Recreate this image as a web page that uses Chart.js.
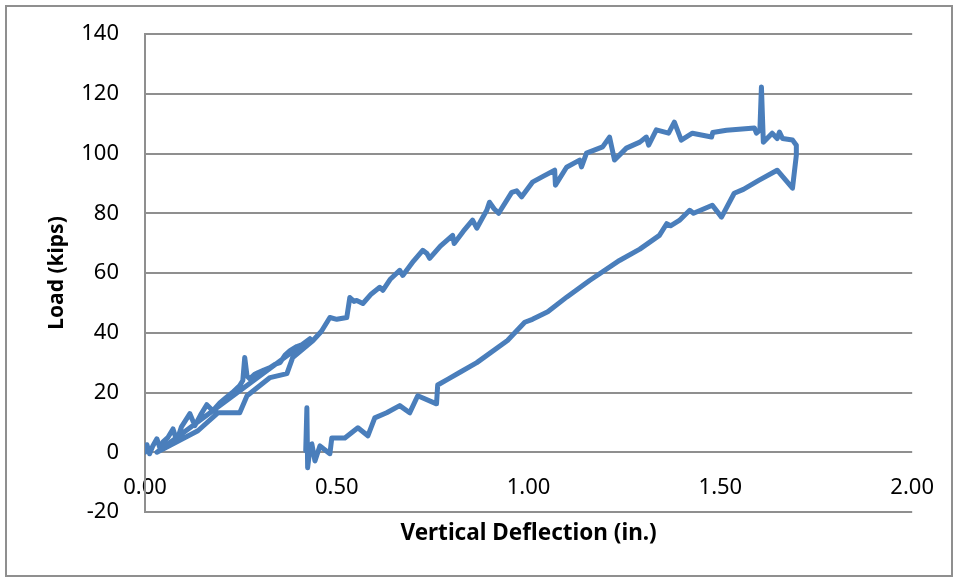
<!DOCTYPE html>
<html lang="en">

<head>
  <meta charset="UTF-8">
  <title>Load vs Vertical Deflection</title>
  <style>
    body {
      margin: 0;
      background-color: #ffffff;
    }

    .frame {
      position: absolute;
      left: 5px;
      top: 5px;
      width: 944px;
      height: 568px;
      border: 2px solid #8f8f8f;
      pointer-events: none;
    }

    #loadChart {
      position: absolute;
      left: 0;
      top: 0;
    }
  </style>
  <script src="https://cdn.jsdelivr.net/npm/chart.js"></script>
</head>

<body>
  <canvas id="loadChart" width="956" height="578"></canvas>
  <div class="frame"></div>

  <script>
    // first loading run, jagged (in., kips)
    const firstLoadDefl = [0.000, 0.005, 0.012, 0.020, 0.031, 0.040, 0.047, 0.060, 0.073, 0.083, 0.095, 0.105, 0.117, 0.130, 0.145, 0.161, 0.177, 0.195, 0.208, 0.228, 0.247, 0.255, 0.260, 0.266, 0.273, 0.285, 0.294, 0.310, 0.326, 0.340, 0.352, 0.365, 0.378, 0.396, 0.417, 0.430];
    const firstLoadKips = [0.0, 2.5, -0.5, 2.0, 4.5, 1.0, 3.5, 5.0, 7.8, 3.8, 8.5, 10.5, 12.9, 8.9, 12.5, 15.9, 13.9, 16.5, 17.9, 20.0, 22.3, 24.0, 31.7, 25.5, 24.6, 26.0, 26.6, 27.5, 28.3, 29.5, 30.0, 32.5, 34.0, 35.4, 36.4, 38.0];

    // early unload and reload
    const reloadDefl = [0.031, 0.138, 0.190, 0.247, 0.266, 0.326, 0.370, 0.385, 0.438];
    const reloadKips = [0.0, 7.2, 13.2, 13.2, 18.9, 25.0, 26.3, 31.7, 37.4];

    // main loading up to peak
    const mainLoadDefl = [0.460, 0.482, 0.500, 0.526, 0.534, 0.545, 0.552, 0.568, 0.590, 0.612, 0.620, 0.640, 0.664, 0.672, 0.700, 0.724, 0.735, 0.742, 0.770, 0.802, 0.806, 0.830, 0.854, 0.865, 0.880, 0.891, 0.898, 0.910, 0.922, 0.956, 0.969, 0.982, 1.010, 1.040, 1.068, 1.070, 1.099, 1.133, 1.138, 1.151, 1.193, 1.211, 1.224, 1.255, 1.290, 1.307, 1.313, 1.333, 1.365, 1.380, 1.398, 1.427, 1.477, 1.480, 1.516, 1.589, 1.594, 1.603, 1.607, 1.612, 1.635, 1.648, 1.654, 1.662, 1.688, 1.698, 1.698, 1.688];
    const mainLoadKips = [40.5, 45.1, 44.5, 45.1, 51.8, 50.5, 50.8, 49.8, 53.0, 55.2, 54.2, 58.0, 60.9, 59.2, 64.0, 67.6, 66.5, 64.9, 69.0, 72.6, 69.9, 74.0, 77.7, 75.0, 78.5, 81.0, 83.7, 81.5, 80.0, 87.0, 87.5, 85.5, 90.4, 92.5, 94.4, 89.4, 95.4, 97.8, 95.5, 100.1, 102.2, 105.5, 97.8, 101.8, 103.8, 105.5, 102.8, 107.9, 106.8, 110.5, 104.5, 106.8, 105.5, 107.0, 107.8, 108.5, 106.8, 107.8, 122.3, 103.8, 106.8, 105.0, 107.2, 105.0, 104.5, 102.8, 99.4, 88.4];

    // unloading back to residual
    const unloadDefl = [1.648, 1.600, 1.560, 1.536, 1.503, 1.479, 1.430, 1.420, 1.393, 1.370, 1.360, 1.341, 1.290, 1.237, 1.159, 1.100, 1.050, 1.010, 0.990, 0.945, 0.865, 0.820, 0.790, 0.763, 0.760, 0.711, 0.690, 0.664, 0.630, 0.599, 0.581, 0.555, 0.521, 0.487, 0.482, 0.456, 0.443, 0.435, 0.428, 0.424, 0.422, 0.419];
    const unloadKips = [94.4, 91.0, 88.0, 86.7, 78.7, 82.7, 80.0, 81.0, 77.6, 75.8, 76.5, 72.6, 68.0, 64.2, 57.5, 52.0, 47.0, 44.5, 43.5, 37.4, 30.0, 26.7, 24.5, 22.5, 16.2, 18.9, 13.2, 15.6, 13.2, 11.5, 5.5, 8.2, 4.8, 4.8, -0.5, 2.1, -2.9, 2.8, -1.0, -5.2, 14.9, 0.5];

    const deflection = [].concat(firstLoadDefl, reloadDefl, mainLoadDefl, unloadDefl);
    const load = [].concat(firstLoadKips, reloadKips, mainLoadKips, unloadKips);
    const points = deflection.map((d, i) => ({ x: d, y: load[i] }));

    const gridGrey = '#8f8f8f';

    new Chart(document.getElementById('loadChart'), {
      type: 'scatter',
      data: {
        datasets: [{
          data: points,
          showLine: true,
          borderColor: '#4a7ebb',
          borderWidth: 5,
          borderJoinStyle: 'round',
          borderCapStyle: 'round',
          pointRadius: 0,
          tension: 0
        }]
      },
      options: {
        responsive: false,
        animation: false,
        layout: {
          padding: { left: 0, top: 34, right: 43, bottom: 31 }
        },
        plugins: {
          legend: { display: false },
          tooltip: { enabled: false },
          title: {
            display: true,
            position: 'bottom',
            fullSize: false,
            text: 'Vertical Deflection (in.)',
            color: '#000',
            font: { family: 'Noto Sans', size: 22.5, weight: 'bold' },
            padding: { top: 8, bottom: 0 }
          }
        },
        scales: {
          x: {
            type: 'linear',
            position: { y: 0 },
            min: 0,
            max: 2,
            grid: { display: false, drawTicks: false },
            border: { display: false },
            ticks: {
              stepSize: 0.5,
              padding: 22,
              color: '#000',
              font: { family: 'Noto Sans', size: 22 },
              callback: v => v.toFixed(2)
            }
          },
          y: {
            min: -20,
            max: 140,
            afterFit: scale => { scale.width = 145; },
            grid: { color: gridGrey, lineWidth: 2, drawTicks: false },
            border: { display: true, color: gridGrey, width: 2 },
            ticks: {
              stepSize: 20,
              padding: 26,
              color: '#000',
              // small lineHeight keeps the label padding from pushing the plot area in
              font: { family: 'Noto Sans', size: 22, lineHeight: 0.5 }
            },
            title: {
              display: true,
              text: 'Load (kips)',
              color: '#000',
              font: { family: 'Noto Sans', size: 21, weight: 'bold' },
              padding: { top: 44, bottom: 0 }
            }
          }
        }
      }
    });
  </script>
</body>

</html>
